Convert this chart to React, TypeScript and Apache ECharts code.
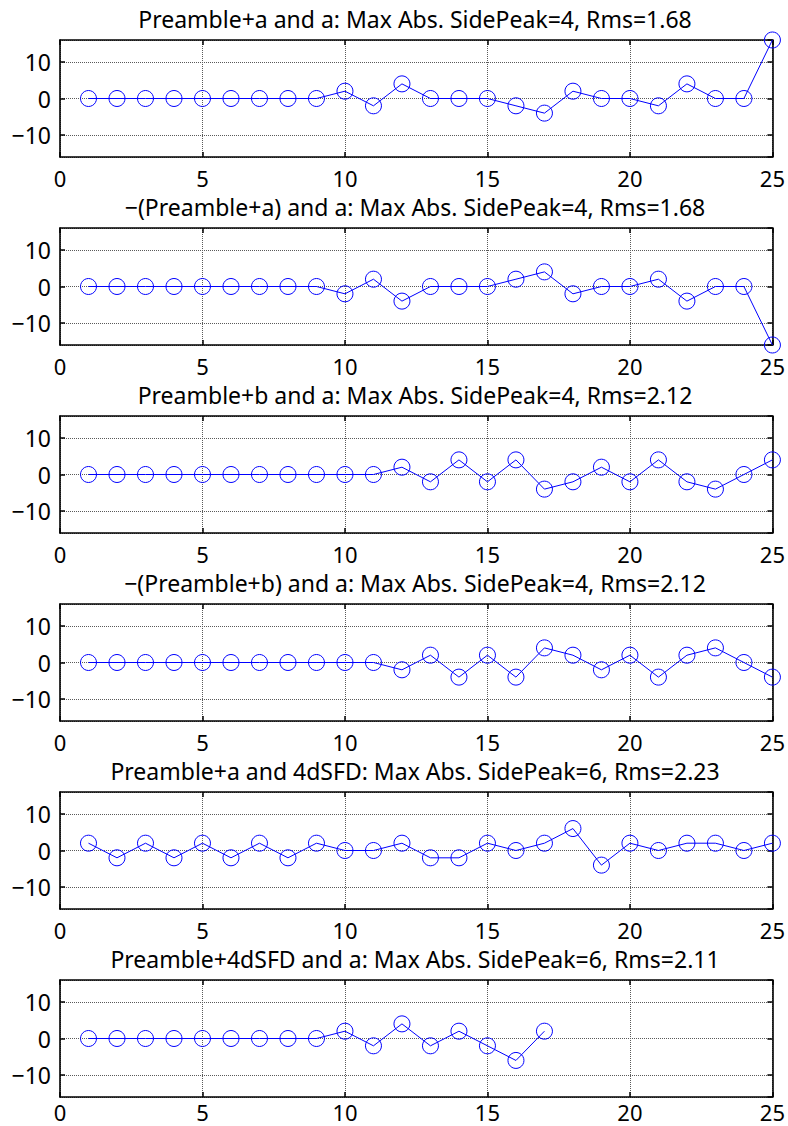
import React, { useEffect, useRef } from 'react';
import * as echarts from 'echarts';

const xValues = [1, 2, 3, 4, 5, 6, 7, 8, 9, 10, 11, 12, 13, 14, 15, 16, 17, 18, 19, 20, 21, 22, 23, 24, 25];

const titles = [
  'Preamble+a and a: Max Abs. SidePeak=4, Rms=1.68',
  '\u2212(Preamble+a) and a: Max Abs. SidePeak=4, Rms=1.68',
  'Preamble+b and a: Max Abs. SidePeak=4, Rms=2.12',
  '\u2212(Preamble+b) and a: Max Abs. SidePeak=4, Rms=2.12',
  'Preamble+a and 4dSFD: Max Abs. SidePeak=6, Rms=2.23',
  'Preamble+4dSFD and a: Max Abs. SidePeak=6, Rms=2.11',
];

const corrPreambleA = [0, 0, 0, 0, 0, 0, 0, 0, 0, 2, -2, 4, 0, 0, 0, -2, -4, 2, 0, 0, -2, 4, 0, 0, 16];
const corrNegPreambleA = [0, 0, 0, 0, 0, 0, 0, 0, 0, -2, 2, -4, 0, 0, 0, 2, 4, -2, 0, 0, 2, -4, 0, 0, -16];
const corrPreambleB = [0, 0, 0, 0, 0, 0, 0, 0, 0, 0, 0, 2, -2, 4, -2, 4, -4, -2, 2, -2, 4, -2, -4, 0, 4];
const corrNegPreambleB = [0, 0, 0, 0, 0, 0, 0, 0, 0, 0, 0, -2, 2, -4, 2, -4, 4, 2, -2, 2, -4, 2, 4, 0, -4];
const corrPreambleA4dSFD = [2, -2, 2, -2, 2, -2, 2, -2, 2, 0, 0, 2, -2, -2, 2, 0, 2, 6, -4, 2, 0, 2, 2, 0, 2];
const corrPreamble4dSFDA = [0, 0, 0, 0, 0, 0, 0, 0, 0, 2, -2, 4, -2, 2, -2, -6, 2];

const seriesList = [
  corrPreambleA,
  corrNegPreambleA,
  corrPreambleB,
  corrNegPreambleB,
  corrPreambleA4dSFD,
  corrPreamble4dSFDA,
];

const xMin = 0;
const xMax = 25;
const xStep = 5;
const yMin = -16;
const yMax = 16;

const FONT = '"Noto Sans", "DejaVu Sans", sans-serif';
const BLUE = '#0000ff';

export default function App() {
  const ref = useRef<HTMLDivElement>(null);

  useEffect(() => {
    if (!ref.current) return;
    const chart = echarts.init(ref.current, null, { renderer: 'svg' });

    const left = 60;
    const width = 714;
    const height = 117;
    const top0 = 40;
    const step = 188;

    const grids: any[] = [];
    const xAxes: any[] = [];
    const yAxes: any[] = [];
    const series: any[] = [];
    const graphics: any[] = [];

    const axisLine = { show: true, onZero: false, lineStyle: { color: '#000', width: 1.6 } };
    const axisTick = { show: true, inside: true, length: 5, lineStyle: { color: '#000', width: 1.5 } };
    const grid = { show: true, lineStyle: { color: '#5a5a5a', type: 'dotted', width: 1 } };
    const fmtY = (v: number) => (v % 10 === 0 ? String(v).replace('-', '\u2212') : '');

    seriesList.forEach((vals, i) => {
      const top = top0 + i * step;
      const isLast = i === seriesList.length - 1;
      grids.push({ left, width, top, height, show: false });

      xAxes.push({
        type: 'value', gridIndex: i, min: xMin, max: xMax, interval: xStep, position: 'bottom',
        axisLine, axisTick,
        axisLabel: { color: '#000', fontSize: 22, fontFamily: FONT, margin: isLast ? 4 : 10, lineHeight: 22 },
        splitLine: grid,
      });
      xAxes.push({
        type: 'value', gridIndex: i, min: xMin, max: xMax, interval: xStep, position: 'top',
        axisLine, axisTick, axisLabel: { show: false }, splitLine: { show: false },
      });
      yAxes.push({
        type: 'value', gridIndex: i, min: yMin, max: yMax, splitNumber: 3, minInterval: 10, maxInterval: 10,
        position: 'left', axisLine, axisTick,
        axisLabel: { color: '#000', fontSize: 23, fontFamily: FONT, margin: 9, formatter: fmtY, showMinLabel: false, showMaxLabel: false },
        splitLine: grid,
      });
      yAxes.push({
        type: 'value', gridIndex: i, min: yMin, max: yMax, splitNumber: 3, minInterval: 10, maxInterval: 10,
        position: 'right', axisLine, axisTick, axisLabel: { show: false }, splitLine: { show: false },
      });

      series.push({
        type: 'line',
        xAxisIndex: 2 * i,
        yAxisIndex: 2 * i,
        data: vals.map((v, k) => [xValues[k], v]),
        symbol: 'circle',
        symbolSize: 16,
        clip: false,
        lineStyle: { color: BLUE, width: 1 },
        itemStyle: { color: 'rgba(0,0,0,0)', borderColor: BLUE, borderWidth: 1 },
        emphasis: { disabled: true },
        silent: true,
      });

      graphics.push({
        type: 'text',
        x: left + width / 2 - 2,
        y: top - 21,
        style: {
          text: titles[i],
          fontSize: 23,
          lineHeight: 23,
          fontFamily: FONT,
          fill: '#000',
          align: 'center',
          textAlign: 'center',
          verticalAlign: 'middle',
          textVerticalAlign: 'middle',
        },
      });
    });

    chart.setOption({
      animation: false,
      backgroundColor: '#fff',
      grid: grids,
      xAxis: xAxes,
      yAxis: yAxes,
      series,
      graphic: graphics,
    });

    return () => chart.dispose();
  }, []);

  return (
    <div
      ref={ref}
      style={{ position: 'fixed', left: 0, top: 0, width: 788, height: 1126, background: '#fff' }}
    />
  );
}
